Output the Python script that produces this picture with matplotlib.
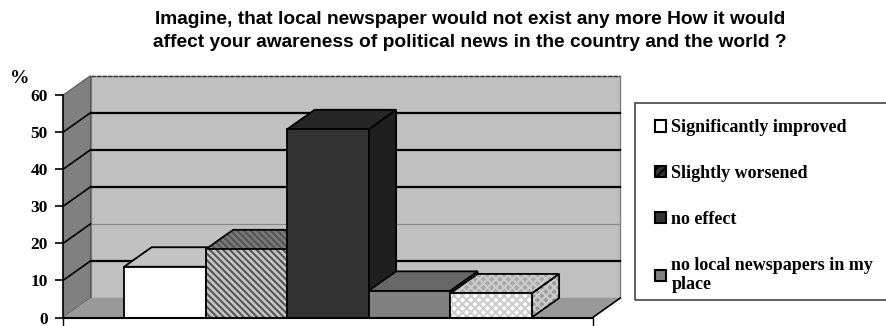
import matplotlib
matplotlib.use("Agg")
import matplotlib.pyplot as plt
from matplotlib.patches import Polygon, Patch, Rectangle

# survey answers, percent
labels = ["Significantly improved", "Slightly worsened", "no effect",
          "no local newspapers in my\nplace"]
values = [13.7, 18.4, 50.8, 7.2, 6.5]
yticks = [0, 10, 20, 30, 40, 50, 60]
title = ("Imagine, that local newspaper would not exist any more How it would\n"
         "affect your awareness of political news in the country and the world ?")

# face colours: front, top, side, hatch
styles = [
    dict(front="white", top="#c4c4c4", side="#bdbdbd", hatch=None),
    dict(front="#c6c6c6", top="#7a7a7a", side="#707070", hatch="\\\\\\\\\\", hc="#555555"),
    dict(front="#333333", top="#262626", side="#1f1f1f", hatch=None),
    dict(front="#808080", top="#686868", side="#5e5e5e", hatch=None),
    dict(front="white", top="#a8a8a8", side="#9c9c9c", hatch="xxxx", hc="#cccccc"),
]

W, H = 886, 326
fig = plt.figure(figsize=(W / 100, H / 100), dpi=100)

px_x, px_y = 81.5, 3.705   # pixels per data unit
x0, x1 = -3.25, 3.25
dx, dy = 27.5 / px_x, 19.5 / px_y
xlim = (x0, 3.65)
ylim = (0, 66)
ax = fig.add_axes([63 / W, 8.5 / H, (xlim[1] - xlim[0]) * px_x / W, ylim[1] * px_y / H])
ax.set_xlim(*xlim)
ax.set_ylim(*ylim)
ax.patch.set_visible(False)

# walls and floor
ax.add_patch(Polygon([(x0 + dx, dy), (x1 + dx, dy), (x1 + dx, 60 + dy), (x0 + dx, 60 + dy)],
                     closed=True, fc="#c0c0c0", ec="#808080", lw=1, zorder=1))
ax.add_patch(Polygon([(x0, 0), (x0 + dx, dy), (x0 + dx, 60 + dy), (x0, 60)],
                     closed=True, fc="#808080", ec="#555555", lw=0.8, zorder=1))
ax.add_patch(Polygon([(x0, 0), (x1, 0), (x1 + dx, dy), (x0 + dx, dy)],
                     closed=True, fc="#999999", ec="none", zorder=1))
ax.plot([x1, x1 + dx], [0, dy], color="black", lw=1.2, zorder=2)
ax.plot([x0 + dx, x1 + dx], [60 + dy, 60 + dy], color="#333333", lw=1, ls=(0, (3, 1)), zorder=2)

# gridlines on side and back wall
for v in yticks[1:-1]:
    thin = v == 20
    ax.plot([x0 + dx, x1 + dx], [v + dy, v + dy], color="#888888" if thin else "black",
            lw=0.8 if thin else 1.6, zorder=2)
    ax.plot([x0, x0 + dx], [v, v + dy], color="black", lw=1.2, zorder=2)


def face(pts, fc, hatch=None, hc=None, z=3):
    ax.add_patch(Polygon(pts, closed=True, fc=fc, ec="none", zorder=z))
    if hatch:
        ax.add_patch(Polygon(pts, closed=True, fill=False, hatch=hatch, ec=hc, lw=0, zorder=z))
    ax.add_patch(Polygon(pts, closed=True, fill=False, ec="black", lw=1.3, zorder=z))


plt.rcParams["hatch.linewidth"] = 1.5
# bars, drawn left to right so later bars hide earlier side faces
for i, (v, s) in enumerate(zip(values, styles)):
    a = -2.5 + i
    b = a + 1
    z = 3 + i
    face([(b, 0), (b + dx, dy), (b + dx, v + dy), (b, v)], s["side"], s["hatch"], s.get("hc"), z)
    face([(a, v), (b, v), (b + dx, v + dy), (a + dx, v + dy)], s["top"], s["hatch"], s.get("hc"), z)
    face([(a, 0), (b, 0), (b, v), (a, v)], s["front"], s["hatch"], s.get("hc"), z)

# axes: left spine is the value axis, bottom spine the floor edge
for sp in ("top", "right"):
    ax.spines[sp].set_visible(False)
ax.spines["left"].set_bounds(0, 60)
ax.spines["bottom"].set_bounds(x0, x1)
ax.spines["left"].set_linewidth(1.2)
ax.spines["bottom"].set_linewidth(1.5)
ax.spines["left"].set_zorder(10)
ax.spines["bottom"].set_zorder(10)
ax.set_yticks(yticks)
ax.set_yticklabels([str(t) for t in yticks], fontfamily="Liberation Serif",
                   fontweight="bold", fontsize=12.5)
ax.tick_params(axis="y", direction="out", length=6, width=1.2, pad=5)
ax.set_xticks([x0, x1])
ax.set_xticklabels([])
ax.tick_params(axis="x", direction="out", length=6, width=1)

fig.text(20 / W, 1 - 79 / H, "%", fontfamily="Liberation Serif", fontweight="bold",
         fontsize=14, ha="center", va="center")

fig.text(470 / W, 1 - 31 / H, title, ha="center", va="center", fontfamily="Liberation Sans",
         fontweight="bold", fontsize=13.8, linespacing=1.5)

# legend box runs off the right edge
fig.add_artist(Rectangle((635 / W, 1 - 300 / H), 300 / W, 197 / H, transform=fig.transFigure,
                         fill=False, ec="#444444", lw=1.2, clip_on=False))
handles = [
    Patch(fc="white", ec="black", lw=1.5),
    Patch(fc="#333333", ec="black", lw=1.5, hatch="////"),
    Patch(fc="#333333", ec="black", lw=1.5),
    Patch(fc="#808080", ec="black", lw=1.5),
]
fig.legend(handles, labels, loc="upper left", bbox_to_anchor=(648 / W, 1 - 112 / H),
           frameon=False, prop=dict(family="Liberation Serif", weight="bold", size=13),
           handlelength=0.6, handleheight=0.6, handletextpad=0.3, labelspacing=1.6,
           borderaxespad=0)

fig.savefig("out.png", dpi=100)
